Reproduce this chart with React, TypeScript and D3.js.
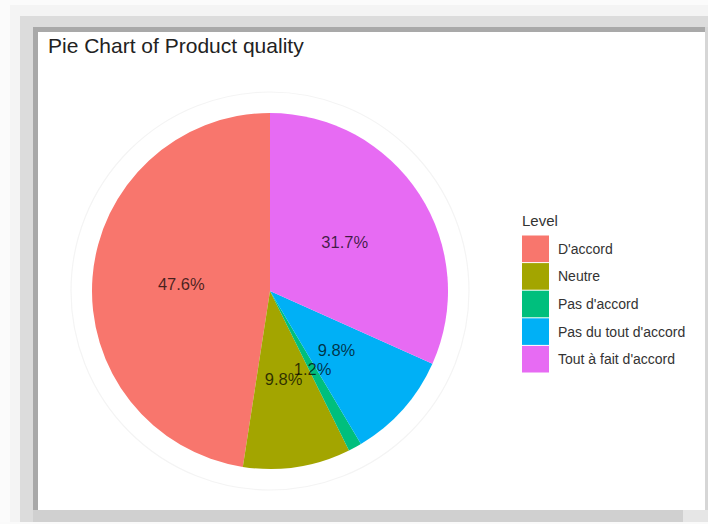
import React from "react";
import * as d3 from "d3";

const categories = ["D'accord", "Neutre", "Pas d'accord", "Pas du tout d'accord", "Tout à fait d'accord"];
const counts = [39, 8, 1, 8, 26];
const colors = ["#F8766D", "#A3A500", "#00BF7D", "#00B0F6", "#E76BF3"];
const title = "Pie Chart of Product quality";
const legendTitle = "Level";

const W = 708;
const H = 524;
const FONT = "'Liberation Sans', Arial, sans-serif";

export default function App() {
  const cx = 270;
  const cy = 291;
  const r = 178;
  const total = d3.sum(counts);
  const pie = d3
    .pie<number>()
    .sort(null)
    .startAngle(0)
    .endAngle(-2 * Math.PI);
  const arcs = pie(counts);
  const arc = d3.arc<d3.PieArcDatum<number>>().innerRadius(0).outerRadius(r);
  const fmt = (v: number) => d3.format(".1f")((v / total) * 100) + "%";

  const legendX = 522;
  const keyTop = 235;
  const keyH = 27.6;
  const keyW = 27;
  const keyY = d3
    .scaleBand<number>()
    .domain(d3.range(categories.length))
    .range([keyTop, keyTop + keyH * categories.length]);

  return (
    <svg
      width={W}
      height={H}
      style={{ position: "absolute", left: 0, top: 0, display: "block" }}
      fontFamily={FONT}
    >
      {/* background & shadow frame */}
      <rect x={0} y={0} width={W} height={H} fill="#fbfbfb" />
      <rect x={10} y={5} width={W - 10} height={H - 5} fill="#f4f4f4" />
      <rect x={20} y={16} width={W - 20} height={507} fill="#dcdcdc" />
      <rect x={33} y={27} width={672} height={483} fill="#a9a9a9" />
      <rect x={705} y={27} width={3} height={483} fill="#d6d6d6" />
      <rect x={33} y={510} width={650} height={12} fill="#d0d0d0" />
      <rect x={683} y={510} width={25} height={12} fill="#e6e6e6" />
      <rect x={0} y={522} width={W} height={2} fill="#fafafa" />
      <rect x={38} y={32} width={667} height={478} fill="#ffffff" />

      {/* title */}
      <text x={48} y={53} fontSize={21} fill="#222">
        {title}
      </text>

      {/* faint polar background */}
      <circle cx={cx} cy={cy} r={199} fill="none" stroke="#f4f4f4" strokeWidth={1.2} />

      {/* pie */}
      <g transform={`translate(${cx},${cy})`}>
        {arcs.map((a, i) => (
          <path key={i} d={arc(a) || ""} fill={colors[i]} />
        ))}
        {arcs.map((a, i) => {
          const [lx, ly] = arc.centroid(a);
          return (
            <text
              key={"l" + i}
              x={lx}
              y={ly}
              dy="0.35em"
              textAnchor="middle"
              fontSize={16.5}
              fill="#000"
              fillOpacity={0.72}
            >
              {fmt(counts[i])}
            </text>
          );
        })}
      </g>

      {/* legend */}
      <text x={legendX} y={226} fontSize={15} fill="#333">
        {legendTitle}
      </text>
      {categories.map((c, i) => {
        const y = keyY(i) as number;
        return (
          <g key={c}>
            <rect x={legendX} y={y + 0.5} width={keyW} height={keyH - 1} fill={colors[i]} />
            <text x={legendX + 36} y={y + keyH / 2} dy="0.35em" fontSize={14} fill="#333">
              {c}
            </text>
          </g>
        );
      })}
    </svg>
  );
}
